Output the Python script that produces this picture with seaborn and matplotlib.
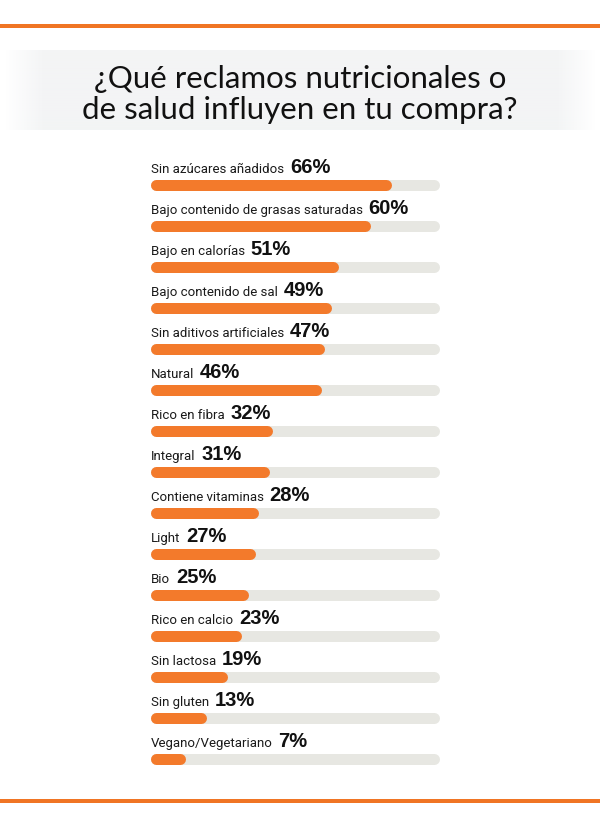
import numpy as np
import seaborn as sns
import matplotlib.pyplot as plt

# datos
etiquetas = ["Sin azúcares añadidos", "Bajo contenido de grasas saturadas", "Bajo en calorías",
             "Bajo contenido de sal", "Sin aditivos artificiales", "Natural", "Rico en fibra",
             "Integral", "Contiene vitaminas", "Light", "Bio", "Rico en calcio", "Sin lactosa",
             "Sin gluten", "Vegano/Vegetariano"]
valores = [66, 60, 51, 49, 47, 46, 32, 31, 28, 27, 25, 23, 19, 13, 7]
escala = [80] * len(etiquetas)  # fondo gris de cada barra

NARANJA = "#f37a2b"
GRIS = "#e7e7e2"
W, H = 600, 829

sns.set_theme(style="white")
plt.rcParams["font.family"] = ["Liberation Sans", "DejaVu Sans"]

fig = plt.figure(figsize=(W / 100, H / 100), dpi=100)

# capa de fondo en pixeles
bg = fig.add_axes([0, 0, 1, 1], zorder=0)
bg.set_xlim(0, W)
bg.set_ylim(H, 0)
bg.axis("off")
bg.axhline(27, color="#f07524", lw=4 * 0.72)
bg.axhline(801.5, color="#f07524", lw=4 * 0.72)

# caja del titulo con bordes difuminados
xs = np.arange(W)
alpha = np.clip(np.minimum(xs - 5, W - 5 - xs) / 40, 0, 1)
grad = np.zeros((1, W, 4))
grad[..., 0] = 0xf3 / 255
grad[..., 1] = 0xf4 / 255
grad[..., 2] = 0xf5 / 255
grad[..., 3] = alpha
bg.imshow(grad, extent=(0, W, 131, 51), aspect="auto", interpolation="bilinear")
bg.set_xlim(0, W)
bg.set_ylim(H, 0)
bg.text(W / 2, 88, "¿Qué reclamos nutricionales o", ha="center", va="baseline",
        fontsize=22.5, family=["Lato", "DejaVu Sans"], color="#111111")
bg.text(W / 2, 119, "de salud influyen en tu compra?", ha="center", va="baseline",
        fontsize=22.5, family=["Lato", "DejaVu Sans"], color="#111111")

# ejes de las barras
x0, px_pct = 155.5, 3.485
top, bottom = 186 - 20.5, 186 + 14 * 41 + 20.5
ax = fig.add_axes([x0 / W, 1 - bottom / H, 80 * px_pct / W, (bottom - top) / H], zorder=1)
ax.patch.set_alpha(0)

lw = 11 * 0.72
sns.barplot(x=escala, y=etiquetas, orient="h", width=0.001, color=GRIS, edgecolor=GRIS,
            linewidth=lw, saturation=1, ax=ax)
sns.barplot(x=valores, y=etiquetas, orient="h", width=0.001, color=NARANJA, edgecolor=NARANJA,
            linewidth=lw, saturation=1, ax=ax)
for p in ax.patches:
    p.set_joinstyle("round")
    p.set_capstyle("round")
    p.set_clip_on(False)

ax.set_xlim(0, 80)
ax.set_ylim(len(etiquetas) - 0.5, -0.5)
ax.axis("off")

fig.canvas.draw()
renderer = fig.canvas.get_renderer()
lx = -4.8 / px_pct
for i, (et, v) in enumerate(zip(etiquetas, valores)):
    t = ax.text(lx, i - 13 / 41, et, ha="left", va="baseline", fontsize=9.5, color="#1a1a1a",
                family=["Roboto", "DejaVu Sans"])
    bb = t.get_window_extent(renderer)
    xv = ax.transData.inverted().transform((bb.x1 + 6, 0))[0]
    ax.text(xv, i - 13 / 41, f"{v}%", ha="left", va="baseline", fontsize=14.5,
            fontweight="bold", color="#111111")

fig.savefig("out.png", dpi=100)
